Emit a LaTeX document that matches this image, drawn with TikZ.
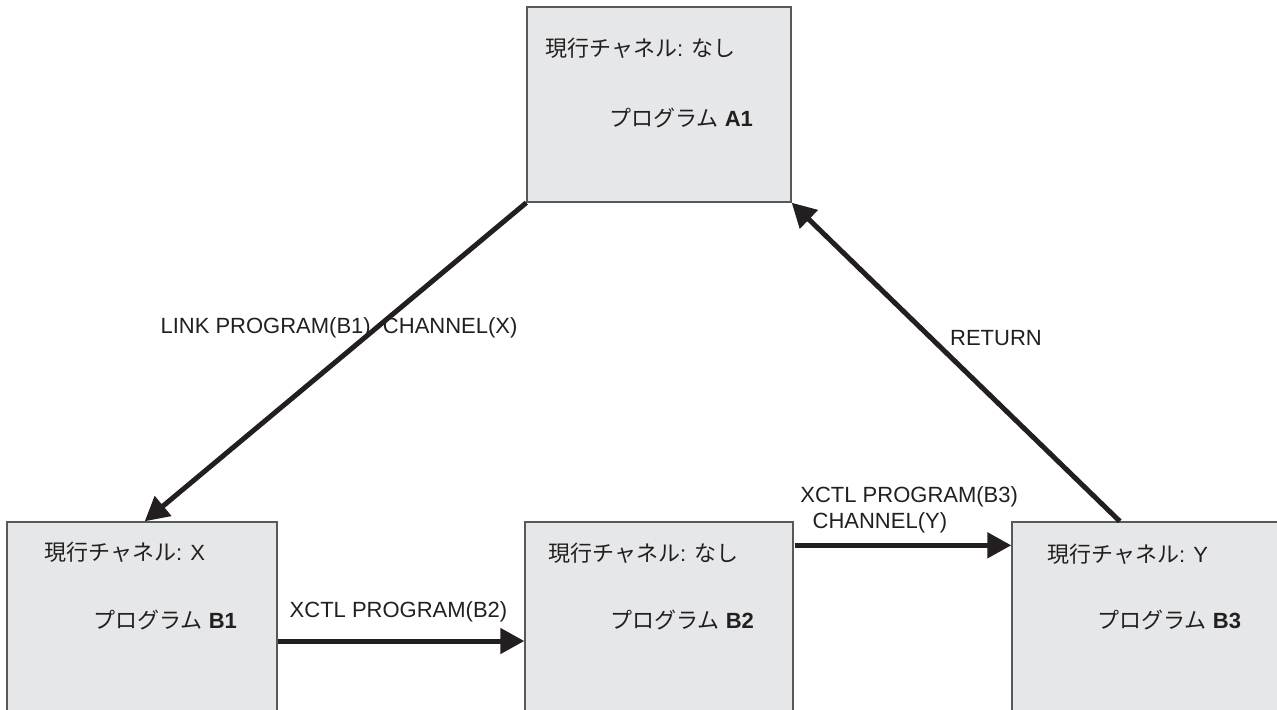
\documentclass[tikz,border=0pt]{standalone}
\usepackage{fontspec}
\setmainfont{Liberation Sans}
\newfontfamily\jp{Noto Sans CJK JP}
\usetikzlibrary{arrows.meta,calc}
\definecolor{boxfill}{HTML}{E6E7E8}
\definecolor{boxline}{HTML}{58595B}
\definecolor{ink}{HTML}{231F20}
\begin{document}
\begin{tikzpicture}[x=0.5pt,y=-0.5pt,
  progbox/.style={draw=boxline,line width=0.7pt,fill=boxfill,rectangle,inner sep=0pt},
  txt/.style={font=\fontsize{11}{13}\selectfont,text=ink,inner sep=0pt},
  intxt/.style={txt,anchor=west},
  flow/.style={draw=ink,line width=2.5pt,-{Triangle[length=12pt,width=12.5pt]}}]
\useasboundingbox (0,0) rectangle (1277,709);
\clip (0,0) rectangle (1277,709);
% boxes
\node[progbox,minimum width=132pt,minimum height=97.5pt] (A1) at (659,104.5) {};
\node[progbox,minimum width=135pt,minimum height=119pt] (B1) at (142,641) {};
\node[progbox,minimum width=134pt,minimum height=119pt] (B2) at (659,641) {};
\node[progbox,minimum width=144pt,minimum height=119pt] (B3) at (1156,641) {};
% box texts
\node[intxt] (A1c) at (545,48) {{\jp 現行チャネル}: {\jp なし}};
\node[intxt] (A1p) at (609,118) {{\jp プログラム} \textbf{A1}};
\node[intxt] (B1c) at (44,552) {{\jp 現行チャネル}: X};
\node[intxt] (B1p) at (93,620) {{\jp プログラム} \textbf{B1}};
\node[intxt] (B2c) at (548,553) {{\jp 現行チャネル}: {\jp なし}};
\node[intxt] (B2p) at (610,620) {{\jp プログラム} \textbf{B2}};
\node[intxt] (B3c) at (1047,554) {{\jp 現行チャネル}: Y};
\node[intxt] (B3p) at (1097,620) {{\jp プログラム} \textbf{B3}};
% connectors
\draw[flow] (A1.south west) -- ($(B1.north west)!0.51!(B1.north east)$);
\draw[flow] ($(B3.north west)!0.375!(B3.north east)$) -- (A1.south east);
\draw[flow] (B1.east) -- (B2.west);
\draw[flow] ($(B2.north east)+(1,24)$) -- ($(B3.north west)+(0,24)$);
% labels
\node[txt] (Llink) at (339,328) {LINK PROGRAM(B1)\ \ CHANNEL(X)};
\node[txt] (Lret) at (996,338) {RETURN};
\node[txt] (Lx2) at (398.5,612) {XCTL PROGRAM(B2)};
\node[txt,anchor=west,align=left] (Lx3) at (800,510) {XCTL PROGRAM(B3)\\\ \ CHANNEL(Y)};
\end{tikzpicture}
\end{document}
